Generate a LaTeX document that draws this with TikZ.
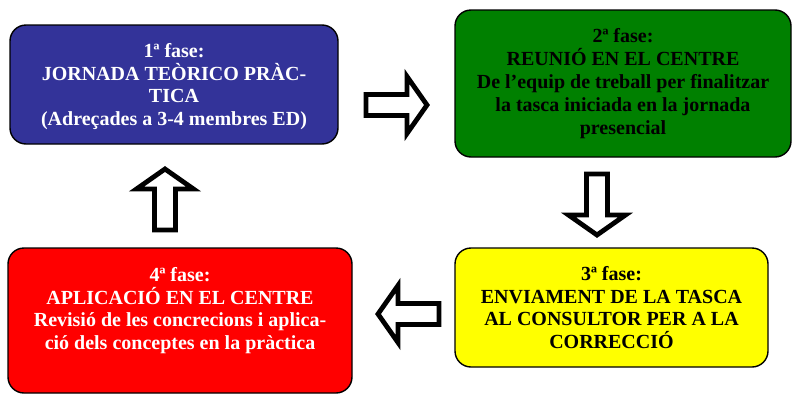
\documentclass[tikz,border=0pt]{standalone}
\usepackage{fontspec}
\setmainfont{Liberation Serif}
\definecolor{fblue}{HTML}{333399}
\definecolor{fgreen}{HTML}{008000}
\definecolor{fyellow}{HTML}{FFFF00}
\definecolor{fred}{HTML}{FF0000}
\tikzset{
  phase/.style={draw=black, line width=1.4pt, rounded corners=16pt, inner sep=0pt},
  txt/.style={align=center, font=\fontsize{20}{22.8}\selectfont\bfseries, inner sep=0pt},
  barrow/.pic={
    \draw[line width=4.8pt, fill=white, miter limit=10]
      (0,-10.5) -- (41,-10.5) -- (41,-28.5) -- (61,0) -- (41,28.5) -- (41,10.5) -- (0,10.5) -- cycle;
  }
}
\begin{document}
\begin{tikzpicture}[x=1pt, y=-1pt]
\useasboundingbox (0,0) rectangle (793,394);
% boxes
\node[phase, fill=fblue, minimum width=328pt, minimum height=119pt] (f1) at (174,84.5) {};
\node[phase, fill=fgreen, minimum width=336pt, minimum height=147pt] (f2) at (623,83.5) {};
\node[phase, fill=fyellow, minimum width=313pt, minimum height=119pt] (f3) at (611.5,307.5) {};
\node[phase, fill=fred, minimum width=344pt, minimum height=145pt] (f4) at (180,320.5) {};
% texts
\node[txt, text=white] (t1) at ([yshift=-2pt]f1.center) {1ª fase:\\JORNADA TEÒRICO PRÀC-\\TICA\\(Adreçades a 3-4 membres ED)};
\node[txt, text=black] (t2) at ([yshift=0pt]f2.center) {2ª fase:\\REUNIÓ EN EL CENTRE\\De l’equip de treball per finalitzar\\la tasca iniciada en la jornada\\presencial};
\node[txt, text=black] (t3) at (f3.center) {3ª fase:\\ENVIAMENT DE LA TASCA\\AL CONSULTOR PER A LA\\CORRECCIÓ};
\node[txt, text=white] (t4) at ([yshift=10pt]f4.center) {4ª fase:\\APLICACIÓ EN EL CENTRE\\Revisió de les concrecions i aplica-\\ció dels conceptes en la pràctica};
% arrow anchors
\coordinate (a12) at (366,105);
\coordinate (a23) at (597,174);
\coordinate (a34) at (439,314);
\coordinate (a41) at (165,230);
\pic at (a12) {barrow};
\pic[rotate=-90] at (a23) {barrow};
\pic[rotate=180] at (a34) {barrow};
\pic[rotate=90] at (a41) {barrow};
\end{tikzpicture}
\end{document}
